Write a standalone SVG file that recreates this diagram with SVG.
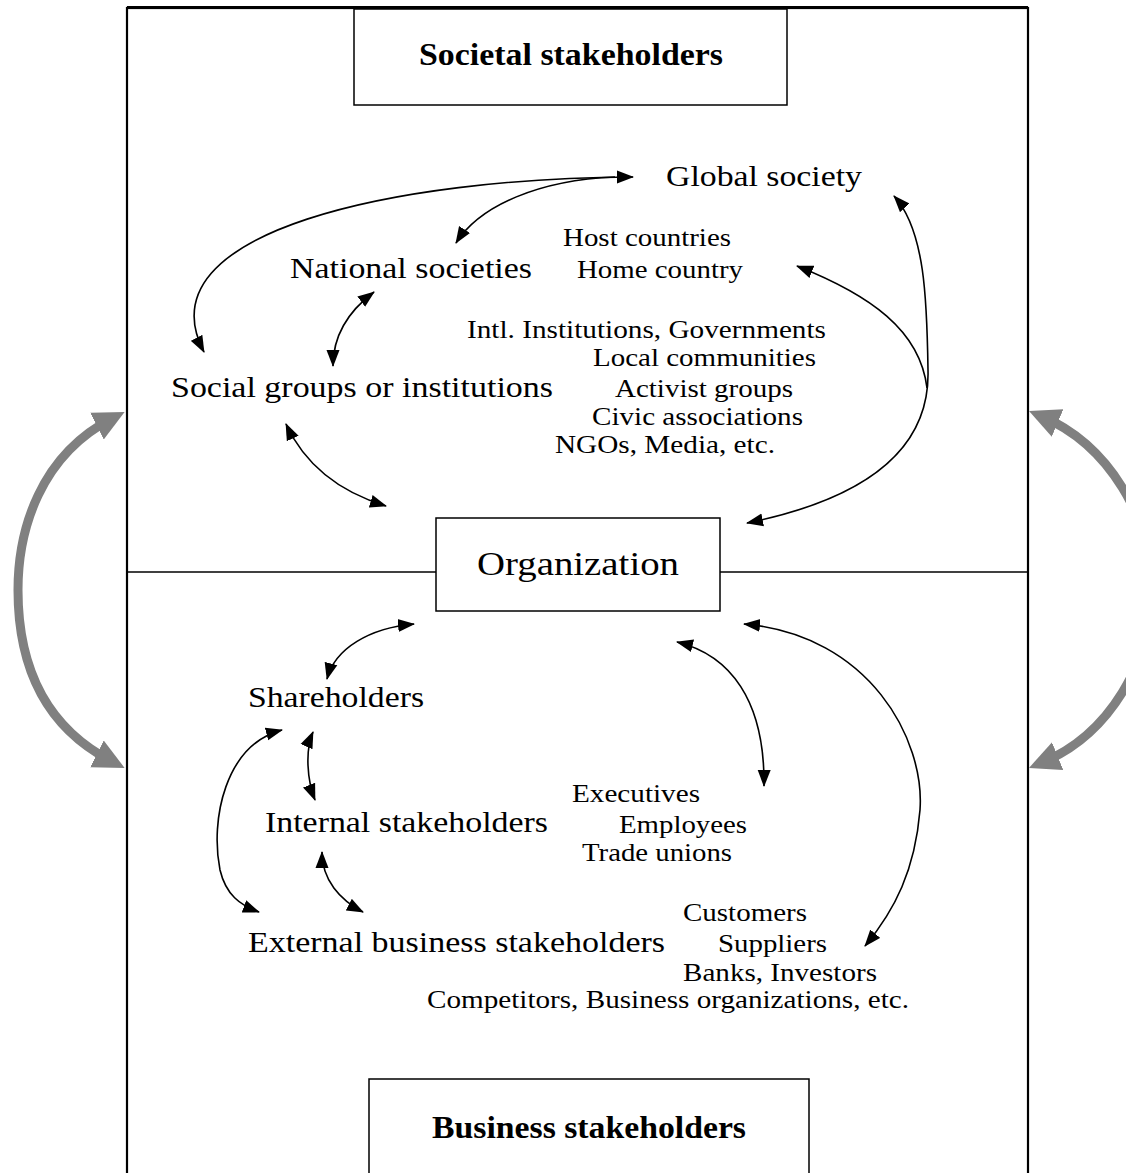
<svg xmlns="http://www.w3.org/2000/svg" width="1126" height="1173" viewBox="0 0 1126 1173">
<style>
text{font-family:"Liberation Serif","Times New Roman",serif;fill:#000}
.h{font-size:32px;font-weight:bold}
.m{font-size:30px}
.s{font-size:25px}
.o{font-size:34px}
.box{fill:#fff;stroke:#000;stroke-width:1.5}
.c{fill:none;stroke:#000;stroke-width:1.6}
.g{fill:none;stroke:#808080;stroke-width:9}
</style>
<defs>
<marker id="ah" markerUnits="userSpaceOnUse" markerWidth="18" markerHeight="14" viewBox="0 -7 18 14" refX="16" refY="0" orient="auto-start-reverse">
<path d="M0,-6.5 L17,0 L0,6.5 Z" fill="#000"/>
</marker>
<marker id="gh" markerUnits="userSpaceOnUse" markerWidth="34" markerHeight="32" viewBox="0 -16 34 32" refX="18" refY="0" orient="auto-start-reverse">
<path d="M0,-15 L31,0 L0,15 Z" fill="#808080"/>
</marker>
</defs>

<g id="frame">
<rect x="127" y="8" width="901" height="1180" fill="none" stroke="#000" stroke-width="2.2"/>
<line x1="127" y1="7.5" x2="1028" y2="7.5" stroke="#000" stroke-width="3"/>
<line x1="127" y1="572" x2="436" y2="572" stroke="#000" stroke-width="1.5"/>
<line x1="720" y1="572" x2="1028" y2="572" stroke="#000" stroke-width="1.5"/>
</g>

<g id="connectors">
<path class="c" d="M633,177 C400,178 140,230 204,352" marker-start="url(#ah)" marker-end="url(#ah)"/>
<path class="c" d="M615,177 C540,180 480,205 456,243" marker-end="url(#ah)"/>
<path class="c" d="M374,292 C350,310 333,335 333,366" marker-start="url(#ah)" marker-end="url(#ah)"/>
<path class="c" d="M286,424 C305,465 340,492 386,506" marker-start="url(#ah)" marker-end="url(#ah)"/>
<path class="c" d="M747,523 C880,496 930,440 928,370 C927,300 925,230 894,196" marker-start="url(#ah)" marker-end="url(#ah)"/>
<path class="c" d="M927,388 C920,330 870,295 797,266" marker-end="url(#ah)"/>
<path class="c" d="M414,624 C370,628 335,648 327,679" marker-start="url(#ah)" marker-end="url(#ah)"/>
<path class="c" d="M677,642 C730,655 765,700 764,786" marker-start="url(#ah)" marker-end="url(#ah)"/>
<path class="c" d="M744,624 C870,635 925,740 920,810 C915,870 895,910 865,946" marker-start="url(#ah)" marker-end="url(#ah)"/>
<path class="c" d="M282,730 C225,745 210,820 220,870 C226,895 240,905 259,912" marker-start="url(#ah)" marker-end="url(#ah)"/>
<path class="c" d="M313,732 C305,750 307,780 315,800" marker-start="url(#ah)" marker-end="url(#ah)"/>
<path class="c" d="M322,852 C322,880 340,900 363,912" marker-start="url(#ah)" marker-end="url(#ah)"/>
<path class="g" d="M113,418 C40,455 18,530 18,590 C18,660 40,725 113,762" marker-start="url(#gh)" marker-end="url(#gh)"/>
<path class="g" d="M1041,416 C1110,445 1152,520 1152,590 C1152,660 1110,735 1041,763" marker-start="url(#gh)" marker-end="url(#gh)"/>
</g>

<g id="societal-stakeholders">
<rect class="box" x="354" y="9" width="433" height="96"/>
<text class="h" x="419" y="65" textLength="304" lengthAdjust="spacingAndGlyphs">Societal stakeholders</text>
</g>

<g id="global-society">
<text class="m" x="666" y="186" textLength="196" lengthAdjust="spacingAndGlyphs">Global society</text>
</g>
<g id="national-societies">
<text class="m" x="290" y="278" textLength="242" lengthAdjust="spacingAndGlyphs">National societies</text>
</g>
<g id="national-examples">
<text class="s" x="563" y="246" textLength="168" lengthAdjust="spacingAndGlyphs">Host countries</text>
<text class="s" x="577" y="278" textLength="166" lengthAdjust="spacingAndGlyphs">Home country</text>
</g>
<g id="social-groups">
<text class="m" x="171" y="397" textLength="382" lengthAdjust="spacingAndGlyphs">Social groups or institutions</text>
</g>
<g id="social-examples">
<text class="s" x="467" y="338" textLength="359" lengthAdjust="spacingAndGlyphs">Intl. Institutions, Governments</text>
<text class="s" x="593" y="366" textLength="223" lengthAdjust="spacingAndGlyphs">Local communities</text>
<text class="s" x="615" y="397" textLength="178" lengthAdjust="spacingAndGlyphs">Activist groups</text>
<text class="s" x="592" y="425" textLength="211" lengthAdjust="spacingAndGlyphs">Civic associations</text>
<text class="s" x="555" y="453" textLength="220" lengthAdjust="spacingAndGlyphs">NGOs, Media, etc.</text>
</g>

<g id="organization">
<rect class="box" x="436" y="518" width="284" height="93"/>
<text class="o" x="477" y="575" textLength="202" lengthAdjust="spacingAndGlyphs">Organization</text>
</g>

<g id="shareholders">
<text class="m" x="248" y="707" textLength="176" lengthAdjust="spacingAndGlyphs">Shareholders</text>
</g>
<g id="internal-stakeholders">
<text class="m" x="265" y="832" textLength="283" lengthAdjust="spacingAndGlyphs">Internal stakeholders</text>
</g>
<g id="internal-examples">
<text class="s" x="572" y="802" textLength="128" lengthAdjust="spacingAndGlyphs">Executives</text>
<text class="s" x="619" y="833" textLength="128" lengthAdjust="spacingAndGlyphs">Employees</text>
<text class="s" x="582" y="861" textLength="150" lengthAdjust="spacingAndGlyphs">Trade unions</text>
</g>
<g id="external-stakeholders">
<text class="m" x="248" y="952" textLength="417" lengthAdjust="spacingAndGlyphs">External business stakeholders</text>
</g>
<g id="external-examples">
<text class="s" x="683" y="921" textLength="124" lengthAdjust="spacingAndGlyphs">Customers</text>
<text class="s" x="718" y="952" textLength="109" lengthAdjust="spacingAndGlyphs">Suppliers</text>
<text class="s" x="683" y="981" textLength="194" lengthAdjust="spacingAndGlyphs">Banks, Investors</text>
<text class="s" x="427" y="1008" textLength="482" lengthAdjust="spacingAndGlyphs">Competitors, Business organizations, etc.</text>
</g>

<g id="business-stakeholders">
<rect class="box" x="369" y="1079" width="440" height="120"/>
<text class="h" x="432" y="1138" textLength="314" lengthAdjust="spacingAndGlyphs">Business stakeholders</text>
</g>
</svg>
